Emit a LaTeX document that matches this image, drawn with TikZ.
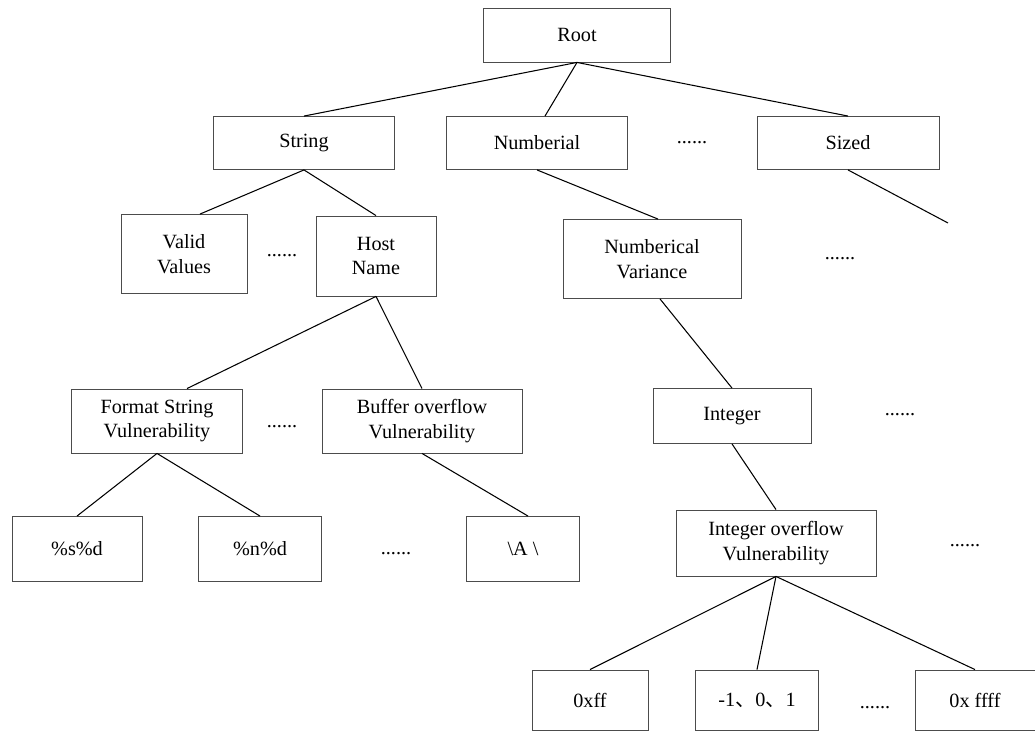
\documentclass[tikz,border=0pt]{standalone}
\usepackage{fontspec}
\setmainfont{Liberation Serif}
\newfontfamily\cjk{Noto Sans CJK SC}

\begin{document}
\begin{tikzpicture}[x=0.02cm,y=-0.02cm,
	box/.style={draw=black!70, line width=0.5pt, align=center, inner sep=2pt, font=\fontsize{11.5}{14}\selectfont},
	link/.style={draw=black, line width=0.6pt},
	gap/.style={inner sep=0pt, font=\fontsize{11.5}{14}\selectfont}]
				\useasboundingbox (0,0) rectangle (1035,736);
				% level 0 and 1
				\node[box, minimum width=3.74cm, minimum height=1.08cm] (root) at (577,35) {Root};
				\node[box, minimum width=3.62cm, minimum height=1.06cm] (str) at (304,143) {String};
				\node[box, minimum width=3.62cm, minimum height=1.06cm] (num) at (537,143) {Numberial};
				\node[gap] (dotsa) at (692,143) {......};
				\node[box, minimum width=3.64cm, minimum height=1.06cm] (sized) at (848,143) {Sized};
				\coordinate (sizedend) at (948,223);
				% level 2
				\node[box, minimum width=2.52cm, minimum height=1.58cm] (valid) at (184,254) {Valid\\Values};
				\node[gap] (dotsb) at (282,256) {......};
				\node[box, minimum width=2.4cm, minimum height=1.6cm] (host) at (376,256) {Host\\Name};
				\node[box, minimum width=3.56cm, minimum height=1.58cm] (var) at (652,259) {Numberical\\Variance};
				\node[gap] (dotsc) at (840,259) {......};
				% level 3
				\node[box, minimum width=3.42cm, minimum height=1.28cm] (fmt) at (157,421) {Format String\\Vulnerability};
				\node[gap] (dotsd) at (282,427) {......};
				\node[box, minimum width=4.0cm, minimum height=1.28cm] (buf) at (422,421) {Buffer overflow\\Vulnerability};
				\node[box, minimum width=3.16cm, minimum height=1.1cm] (int) at (732,416) {Integer};
				\node[gap] (dotse) at (900,415) {......};
				% level 4
				\node[box, minimum width=2.6cm, minimum height=1.3cm] (psd) at (77,549) {\%s\%d};
				\node[box, minimum width=2.46cm, minimum height=1.3cm] (pnd) at (260,549) {\%n\%d};
				\node[gap] (dotsf) at (396,554) {......};
				\node[box, minimum width=2.26cm, minimum height=1.3cm] (bsa) at (523,549) {\textbackslash A \textbackslash};
				\node[box, minimum width=4.0cm, minimum height=1.32cm] (intov) at (776,543) {Integer overflow\\Vulnerability};
				\node[gap] (dotsg) at (965,546) {......};
				% level 5
				\node[box, minimum width=2.32cm, minimum height=1.2cm] (xff) at (590,700) {0xff};
				\node[box, minimum width=2.46cm, minimum height=1.2cm] (neg) at (757,700) {-1{\cjk 、}0{\cjk 、}1};
				\node[gap] (dotsh) at (875,708) {......};
				\node[box, minimum width=2.4cm, minimum height=1.2cm] (xffff) at (975,700) {0x ffff};
				% connectors
				\draw[link] (root.south) -- (str.north);
				\draw[link] (root.south) -- ([xshift=0.16cm]num.north);
				\draw[link] (root.south) -- (sized.north);
				\draw[link] (sized.south) -- (sizedend);
				\draw[link] (str.south) -- ([xshift=0.32cm]valid.north);
				\draw[link] (str.south) -- (host.north);
				\draw[link] (num.south) -- ([xshift=0.12cm]var.north);
				\draw[link] (host.south) -- ([xshift=0.6cm]fmt.north);
				\draw[link] (host.south) -- (buf.north);
				\draw[link] (fmt.south) -- (psd.north);
				\draw[link] (fmt.south) -- (pnd.north);
				\draw[link] (buf.south) -- ([xshift=0.1cm]bsa.north);
				\draw[link] ([xshift=0.16cm]var.south) -- (int.north);
				\draw[link] (int.south) -- (intov.north);
				\draw[link] (intov.south) -- (xff.north);
				\draw[link] (intov.south) -- (neg.north);
				\draw[link] (intov.south) -- (xffff.north);
				\end{tikzpicture}
\end{document}
